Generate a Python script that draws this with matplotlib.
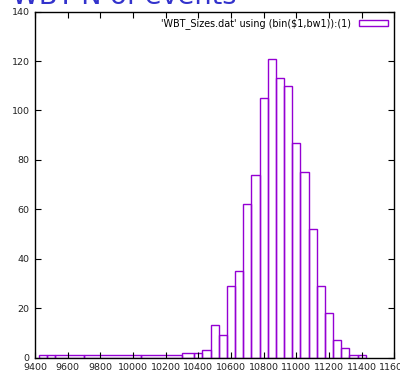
import numpy as np
import matplotlib
matplotlib.use("Agg")
import matplotlib.pyplot as plt

# bin centres (bw1 = 50) and counts per bin
centers = [9450, 9500, 9550, 9850, 10250, 10350, 10400, 10450, 10500, 10550,
           10600, 10650, 10700, 10750, 10800, 10850, 10900, 10950, 11000, 11050,
           11100, 11150, 11200, 11250, 11300, 11350, 11400]
counts = [1, 1, 1, 1, 1, 2, 2, 3, 13, 9,
          29, 35, 62, 74, 105, 121, 113, 110, 87, 75,
          52, 29, 18, 7, 4, 1, 1]
xticks = list(range(9400, 11601, 200))
yticks = list(range(0, 141, 20))
legend_label = "'WBT_Sizes.dat' using (bin($1,bw1)):(1)"
title = "WBT-N of events"

purple = "#9400d3"

# gnuplot "with boxes" autowidth: each box reaches to the midpoint of its neighbours
c = np.array(centers, dtype=float)
mids = (c[1:] + c[:-1]) / 2
left = np.concatenate([[c[0] - (mids[0] - c[0])], mids])
right = np.concatenate([mids, [c[-1] + (c[-1] - mids[-1])]])

fig = plt.figure(figsize=(4.0, 3.76), dpi=100)
ax = fig.add_axes([0.0875, 0.049, 0.8985, 0.920])

ax.bar(left, counts, width=right - left, align="edge", fill=False,
       edgecolor=purple, linewidth=1.0, label=legend_label, clip_on=True)

ax.set_xlim(9400, 11600)
ax.set_ylim(0, 140)
ax.set_xticks(xticks)
ax.set_yticks(yticks)
ax.tick_params(direction="in", top=True, right=True, length=4, width=0.8,
               labelsize=6.8, colors="black", labelcolor="#222222", pad=2)
ax.tick_params(axis="x", pad=4)
ax.tick_params(axis="y", pad=4)
for s in ax.spines.values():
    s.set_linewidth(1.0)
    s.set_color("black")

leg = ax.legend(loc="upper right", frameon=False, fontsize=6.9,
                handlelength=3.0, handleheight=0.6, handletextpad=0.8,
                borderaxespad=0.3, markerfirst=False)

fig.text(0.03, 0.989, title, color="#3333cc", fontsize=19.5, va="baseline",
         ha="left")

fig.savefig("out.png", dpi=100)
